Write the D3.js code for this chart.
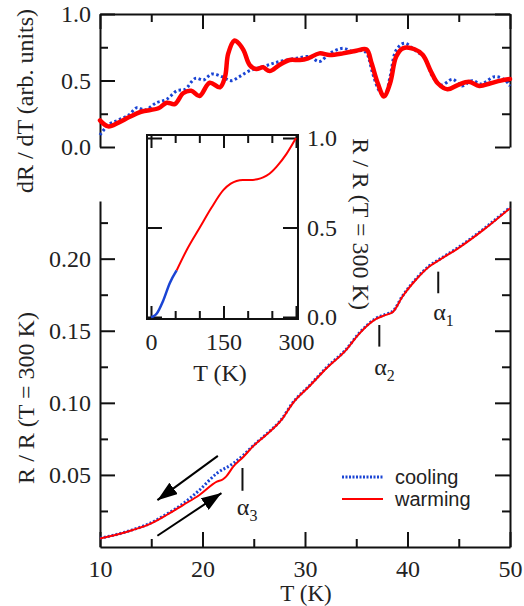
<!DOCTYPE html>
<html>
<head>
<meta charset="utf-8">
<script src="https://cdnjs.cloudflare.com/ajax/libs/d3/7.8.5/d3.min.js"></script>
<style>
body { margin: 0; background: #fff; }
svg text { font-family: "Liberation Serif", "Times New Roman", serif; fill: #222; }
</style>
</head>
<body>
<div class="module"></div>
<script>
// dR/dT panel (top)
const topWarmT = [10, 10.8, 11.8, 12.8, 14.0, 15.7, 16.5, 17.3, 18.1, 18.9, 19.7, 20.7, 21.7, 22.2, 22.5, 23.1, 23.4, 24.0, 24.6, 25.25, 25.9, 26.55, 27.5, 28.5, 29.5, 30.3, 31.4, 32.4, 33.7, 35.0, 36.0, 36.5, 37.1, 37.7, 38.3, 38.9, 39.55, 40.7, 41.5, 42.3, 42.95, 43.9, 44.9, 46.0, 47.0, 48.1, 49.1, 50];
const topWarmV = [0.20, 0.155, 0.183, 0.223, 0.265, 0.291, 0.333, 0.323, 0.404, 0.423, 0.383, 0.483, 0.449, 0.529, 0.70, 0.80, 0.79, 0.729, 0.617, 0.586, 0.599, 0.571, 0.617, 0.654, 0.654, 0.667, 0.704, 0.692, 0.704, 0.724, 0.733, 0.629, 0.479, 0.38, 0.479, 0.68, 0.742, 0.735, 0.692, 0.566, 0.479, 0.434, 0.466, 0.491, 0.459, 0.479, 0.499, 0.511];
const topCoolT = [10, 10.8, 11.8, 12.8, 13.6, 14.4, 15.5, 16.5, 17.5, 18.3, 19.3, 20.1, 20.9, 21.9, 22.8, 23.6, 24.6, 25.9, 26.9, 27.85, 29.15, 30.45, 31.4, 32.4, 33.7, 34.7, 35.7, 36.1, 36.6, 37.3, 37.8, 38.3, 38.9, 39.7, 40.7, 41.7, 42.45, 43.3, 44.4, 45.3, 46.3, 47.2, 48.5, 49.5, 50];
const topCoolV = [0.09, 0.165, 0.203, 0.24, 0.296, 0.278, 0.333, 0.358, 0.423, 0.434, 0.516, 0.504, 0.549, 0.529, 0.499, 0.529, 0.574, 0.604, 0.629, 0.649, 0.667, 0.68, 0.642, 0.704, 0.742, 0.717, 0.724, 0.692, 0.554, 0.416, 0.391, 0.529, 0.729, 0.78, 0.729, 0.667, 0.529, 0.466, 0.509, 0.459, 0.499, 0.474, 0.529, 0.504, 0.459];

// R/R(300K) main panel
const warmT = [10, 12.4, 13.2, 14.9, 16.5, 18.1, 19.7, 21.4, 22.0, 22.3, 23.0, 24.0, 24.9, 26.2, 27.7, 28.8, 30.5, 32.1, 34.0, 35.3, 36.9, 37.9, 38.6, 39.5, 40.8, 42.1, 43.1, 45.0, 47.5, 50];
const warmR = [0.0059, 0.0100, 0.0118, 0.016, 0.0222, 0.0291, 0.0361, 0.0453, 0.047, 0.0488, 0.0557, 0.0626, 0.0696, 0.0777, 0.0881, 0.0997, 0.112, 0.124, 0.1366, 0.148, 0.158, 0.161, 0.1632, 0.1736, 0.1852, 0.1944, 0.199, 0.2075, 0.2205, 0.235];
const coolT = [10, 12.4, 13.2, 14.9, 16.5, 18.1, 19.7, 21.4, 23.0, 24.0, 24.9, 26.2, 27.7, 28.8, 30.5, 32.1, 34.0, 35.3, 36.9, 37.9, 38.6, 39.5, 40.8, 42.1, 43.1, 45.0, 47.5, 50];
const coolR = [0.0061, 0.0102, 0.012, 0.0165, 0.0228, 0.0300, 0.0395, 0.0511, 0.058, 0.0638, 0.0700, 0.0781, 0.0885, 0.1000, 0.1124, 0.1245, 0.137, 0.1485, 0.1585, 0.1615, 0.1637, 0.174, 0.1857, 0.1949, 0.1995, 0.208, 0.221, 0.2355];

// inset, 0-300 K
const insetCoolT = [0, 5, 12, 25, 39, 53];
const insetCoolR = [0, 0.004, 0.02, 0.09, 0.19, 0.26];
const insetWarmT = [53, 75, 101, 125, 150, 165, 177, 190, 205, 220, 232, 245, 260, 280, 300];
const insetWarmR = [0.26, 0.38, 0.50, 0.61, 0.71, 0.745, 0.76, 0.765, 0.765, 0.77, 0.78, 0.80, 0.84, 0.91, 1.0];

// annotations (data units)
const alphaNames = ['1', '2', '3'];
const alphaT = [43.0, 37.25, 23.9];
const alphaR = [[0.176, 0.191], [0.139, 0.154], [0.039, 0.0548]];
const alphaLabelT = [42.5, 36.75, 23.35];
const alphaLabelR = [0.1575, 0.1193, 0.0222];
const arrowFrom = [[21.5, 0.0632], [15.6, 0.0078]];
const arrowTo = [[15.6, 0.0325], [21.85, 0.0374]];

const RED = '#ff0000';
const BLUE = '#1a44d4';
const SERIF = '"Liberation Serif", "Times New Roman", Times, serif';
const SANS = '"Liberation Sans", Arial, Helvetica, sans-serif';

const W = 524, H = 606;
const svg = d3.select('.module').append('svg')
	.attr('width', W)
	.attr('height', H);

const x = d3.scaleLinear().domain([10, 50]).range([100, 510]);
const yTop = d3.scaleLinear().domain([0, 1]).range([147, 14]);
const yMain = d3.scaleLinear().domain([0, 0.24]).range([547, 201]);

const box = {x0: 147, x1: 298, y0: 135, y1: 319};
const xIn = d3.scaleLinear().domain([0, 300]).range([151, 296]);
const yIn = d3.scaleLinear().domain([0, 1]).range([317, 138]);

function styleAxis(g) {
	g.attr('font-family', null);
	g.selectAll('.domain').attr('stroke', '#111').attr('stroke-width', 2);
	g.selectAll('.tick line').attr('stroke', '#111').attr('stroke-width', 2);
	g.selectAll('.tick text').attr('font-size', 24).attr('fill', '#222')
		.style('font-family', SERIF);
}

// major + minor inward ticks
function axis(parent, gen, scale, tx, ty, major, minor, big, small, fmt, pad, keepDomain) {
	const g = parent.append('g').attr('transform', `translate(${tx},${ty})`);
	if (minor.length) {
		g.append('g').call(gen(scale).tickValues(minor).tickSize(-small).tickFormat(''))
			.call(s => s.select('.domain').remove())
			.call(styleAxis);
	}
	g.append('g').call(gen(scale).tickValues(major).tickSizeInner(-big).tickSizeOuter(0)
			.tickPadding(pad).tickFormat(fmt))
		.call(s => { if (!keepDomain) s.select('.domain').remove(); })
		.call(styleAxis);
	return g;
}

function label(parent, txt, tf, size) {
	return parent.append('text')
		.attr('transform', tf)
		.attr('text-anchor', 'middle').attr('font-size', size || 24)
		.style('font-family', SERIF)
		.text(txt);
}

const f1 = d3.format('.1f'), f2 = d3.format('.2f'), none = () => '';
const xMajor = [10, 20, 30, 40, 50], xMinor = [15, 25, 35, 45];

// ---- top panel
axis(svg, d3.axisLeft, yTop, 100, 0, [0, 0.5, 1], [0.25, 0.75], 15, 8, f1, 9, true);
axis(svg, d3.axisRight, yTop, 510, 0, [0, 0.5, 1], [0.25, 0.75], 15, 8, none, 9, true);
axis(svg, d3.axisTop, x, 0, 14, xMajor, xMinor, 15, 8, none, 9, true);

const lineTop = d3.line().curve(d3.curveCatmullRom.alpha(0.5));
svg.append('path')
	.attr('d', lineTop(topCoolT.map((t, i) => [x(t), yTop(topCoolV[i])])))
	.attr('fill', 'none').attr('stroke', BLUE).attr('stroke-width', 3)
	.attr('stroke-dasharray', '2.5,2.5');
svg.append('path')
	.attr('d', lineTop(topWarmT.map((t, i) => [x(t), yTop(topWarmV[i])])))
	.attr('fill', 'none').attr('stroke', RED).attr('stroke-width', 4.5)
	.attr('stroke-linejoin', 'round').attr('stroke-linecap', 'round');

label(svg, 'dR / dT (arb. units)', 'translate(33,101) rotate(-90)');

// ---- main panel
axis(svg, d3.axisLeft, yMain, 100, 0, [0.05, 0.10, 0.15, 0.20], [0.025, 0.075, 0.125, 0.175, 0.225], 15, 8, f2, 9, true);
axis(svg, d3.axisRight, yMain, 510, 0, [0.05, 0.10, 0.15, 0.20], [0.025, 0.075, 0.125, 0.175, 0.225], 15, 8, none, 9, true);
axis(svg, d3.axisBottom, x, 0, 547, xMajor, xMinor, 15, 8, d3.format('d'), 13, true);

const lineMain = d3.line().curve(d3.curveMonotoneX);
svg.append('path')
	.attr('d', lineMain(coolT.map((t, i) => [x(t), yMain(coolR[i])])))
	.attr('fill', 'none').attr('stroke', BLUE).attr('stroke-width', 3)
	.attr('stroke-dasharray', '2,2');
svg.append('path')
	.attr('d', lineMain(warmT.map((t, i) => [x(t), yMain(warmR[i])])))
	.attr('fill', 'none').attr('stroke', RED).attr('stroke-width', 2);

label(svg, 'R / R (T = 300 K)', 'translate(34,398) rotate(-90)');
label(svg, 'T (K)', 'translate(306,601)', 23);

// alpha marks
alphaNames.forEach((n, i) => {
	svg.append('line')
		.attr('x1', x(alphaT[i])).attr('x2', x(alphaT[i]))
		.attr('y1', yMain(alphaR[i][0])).attr('y2', yMain(alphaR[i][1]))
		.attr('stroke', '#111').attr('stroke-width', 2);
	const t = svg.append('text')
		.attr('x', x(alphaLabelT[i])).attr('y', yMain(alphaLabelR[i]))
		.attr('font-size', 24).style('font-family', SERIF);
	t.append('tspan').text('α');
	t.append('tspan').attr('font-size', 16).attr('dy', 6).text(n);
});

// arrows
svg.append('defs').append('marker')
	.attr('id', 'head')
	.attr('viewBox', '0 0 20 14')
	.attr('refX', 20).attr('refY', 7)
	.attr('markerWidth', 20).attr('markerHeight', 14)
	.attr('markerUnits', 'userSpaceOnUse')
	.attr('orient', 'auto')
	.append('path').attr('d', 'M0,0 L20,7 L0,14 Z').attr('fill', '#000');

arrowFrom.forEach((a, i) => {
	svg.append('line')
		.attr('x1', x(a[0])).attr('y1', yMain(a[1]))
		.attr('x2', x(arrowTo[i][0])).attr('y2', yMain(arrowTo[i][1]))
		.attr('stroke', '#000').attr('stroke-width', 2)
		.attr('marker-end', 'url(#head)');
});

// legend
const legend = svg.append('g');
legend.append('line')
	.attr('x1', 342).attr('x2', 383).attr('y1', 477).attr('y2', 477)
	.attr('stroke', BLUE).attr('stroke-width', 3).attr('stroke-dasharray', '2,1.5');
legend.append('text').attr('x', 395).attr('y', 484).attr('font-size', 20)
	.style('font-family', SANS).text('cooling');
legend.append('line')
	.attr('x1', 342).attr('x2', 383).attr('y1', 499).attr('y2', 499)
	.attr('stroke', RED).attr('stroke-width', 2);
legend.append('text').attr('x', 395).attr('y', 506).attr('font-size', 20)
	.style('font-family', SANS).text('warming');

// ---- inset
const inset = svg.append('g');
inset.append('rect')
	.attr('x', box.x0).attr('y', box.y0)
	.attr('width', box.x1 - box.x0).attr('height', box.y1 - box.y0)
	.attr('fill', '#fff').attr('stroke', '#111').attr('stroke-width', 2);

const inMajorX = [0, 150, 300], inMinorX = [50, 100, 200, 250];
axis(inset, d3.axisBottom, xIn, 0, box.y1, inMajorX, inMinorX, 13, 8, d3.format('d'), 14, false);
axis(inset, d3.axisTop, xIn, 0, box.y0, inMajorX, inMinorX, 13, 8, none, 9, false);
axis(inset, d3.axisLeft, yIn, box.x0, 0, [0, 0.5, 1], [], 15, 8, none, 9, false);
axis(inset, d3.axisRight, yIn, box.x1, 0, [0, 0.5, 1], [], 15, 8, f1, 9, false);

const lineIn = d3.line().curve(d3.curveMonotoneX);
inset.append('path')
	.attr('d', lineIn(insetWarmT.map((t, i) => [xIn(t), yIn(insetWarmR[i])])))
	.attr('fill', 'none').attr('stroke', RED).attr('stroke-width', 2);
inset.append('path')
	.attr('d', lineIn(insetCoolT.map((t, i) => [xIn(t), yIn(insetCoolR[i])])))
	.attr('fill', 'none').attr('stroke', BLUE).attr('stroke-width', 2.5);

label(inset, 'T (K)', 'translate(220,381)');
label(inset, 'R / R (T = 300 K)', 'translate(353,224) rotate(90)');
</script>
</body>
</html>
